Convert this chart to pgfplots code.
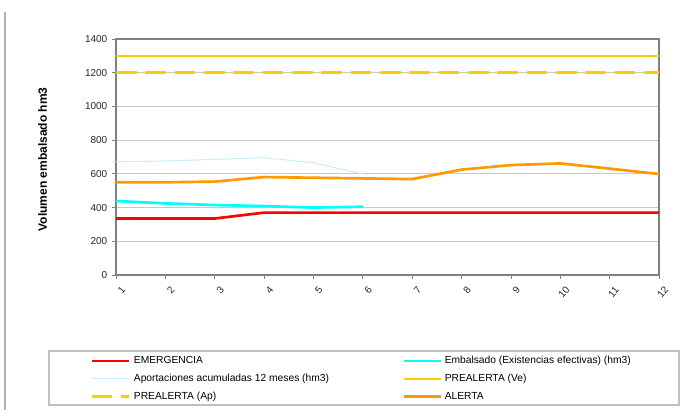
\documentclass[border=0pt]{standalone}
\usepackage{pgfplots}
\pgfplotsset{compat=1.18}
\usepackage{fontspec}
\setmainfont{Liberation Sans}

\definecolor{emerg}{HTML}{FF0000}
\definecolor{embal}{HTML}{00FFFF}
\definecolor{aport}{HTML}{CCECFF}
\definecolor{prealerta}{HTML}{FFCC00}
\definecolor{alerta}{HTML}{FF9900}
\definecolor{gridgray}{HTML}{C8C8C8}
\definecolor{axgray}{HTML}{808080}

\begin{document}
\begin{tikzpicture}
  % page frame (1px = 0.75pt)
  \path[use as bounding box] (0,0) rectangle (519.75pt,314.25pt);
  \draw[gray!60, line width=0.8pt] (3.75pt,6.75pt) -- (3.75pt,305.25pt);
  \draw[gray!50, line width=0.8pt] (36.75pt,10.5pt) rectangle (509.25pt,51pt);

  \begin{axis}[
    at={(87pt,108pt)}, anchor=south west,
    scale only axis,
    width=407.25pt, height=177pt,
    xmin=1, xmax=12, ymin=0, ymax=1400,
    xtick={1,...,12},
    ytick={0,200,...,1400},
    tick align=outside,
    tick pos=left,
    major tick length=3pt,
    axis line style={axgray, line width=0.8pt},
    every tick/.style={axgray, line width=0.6pt},
    ymajorgrids,
    grid style={gridgray, line width=0.6pt},
    tick label style={font=\fontsize{7.5}{9}\selectfont, text=black!85},
    /pgf/number format/assume math mode=true,
    /pgf/number format/1000 sep={},
    xticklabel style={rotate=50, anchor=east, inner sep=0.5pt, xshift=-1pt, yshift=-8.5pt},
    ylabel={\bfseries Volumen embalsado hm3},
    ylabel style={at={(axis description cs:-0.135,0.49)}, anchor=center,
      font=\fontsize{9}{10}\selectfont},
    legend columns=2,
    legend cell align=left,
    legend image code/.code={\draw[#1] (0pt,0pt) -- (27.75pt,0pt);},
    legend style={
      at={(axis description cs:-0.0479,-0.336)}, anchor=north west,
      draw=none, fill=none, inner sep=0pt,
      font=\fontsize{7.7}{9}\selectfont,
      row sep=3.8pt,
      nodes={inner sep=1pt, text height=6pt, text depth=1.6pt},
      /tikz/column 1/.style={column sep=2pt},
      /tikz/column 2/.style={column sep=54pt},
      /tikz/column 3/.style={column sep=1pt},
    },
  ]
    % EMERGENCIA
    \addplot[emerg, line width=2pt] coordinates {
      (1,335) (2,335) (3,335) (4,370) (5,370) (6,370)
      (7,370) (8,370) (9,370) (10,370) (11,370) (12,370)};
    % Embalsado
    \addplot[embal, line width=2pt] coordinates {
      (1,439) (2,425) (3,415) (4,409) (5,400) (6,405)};
    % Aportaciones acumuladas
    \addplot[aport, line width=0.8pt] coordinates {
      (1,672) (2,676) (3,686) (4,696) (5,666) (6,599)};
    % PREALERTA (Ve)
    \addplot[prealerta, line width=2pt] coordinates {(1,1300) (12,1300)};
    % PREALERTA (Ap)
    \addplot[prealerta, line width=2pt, dash pattern=on 15.5pt off 6.5pt] coordinates {(1,1200) (12,1200)};
    % ALERTA
    \addplot[alerta, line width=2pt] coordinates {
      (1,550) (2,550) (3,554) (4,581) (5,577) (6,573)
      (7,569) (8,625) (9,652) (10,662) (11,631) (12,599)};
    \legend{EMERGENCIA, Embalsado (Existencias efectivas) (hm3),
      Aportaciones acumuladas 12 meses (hm3), PREALERTA (Ve),
      PREALERTA (Ap), ALERTA}
  \end{axis}
\end{tikzpicture}
\end{document}
